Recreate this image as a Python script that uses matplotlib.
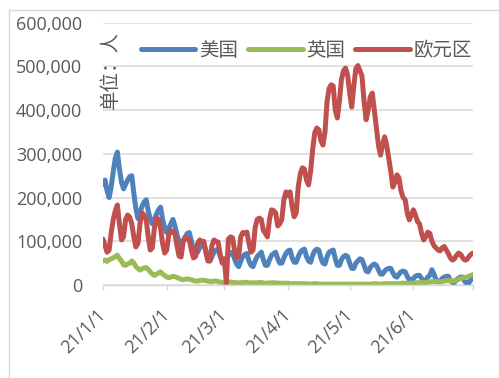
import matplotlib.pyplot as plt
import matplotlib.transforms as mtransforms
from matplotlib.lines import Line2D
import pandas as pd
import numpy as np

plt.rcParams['font.family'] = ['Open Sans', 'Noto Sans CJK SC', 'DejaVu Sans']

dates = pd.date_range("2021-01-01", "2021-06-30", freq="D")

# daily new cases, thousands of people
us_k = [230, 240, 215, 200, 225, 260, 290,
        304, 265, 235, 220, 230, 240, 248,
        250, 210, 175, 152, 165, 180, 190,
        195, 170, 150, 140, 150, 162, 172,
        178, 150, 130, 120, 130, 140, 150,
        135, 115, 100, 90, 100, 110, 118,
        120, 100, 80, 70, 75, 85, 92,
        95, 80, 65, 55, 65, 75, 80,
        82, 65, 55, 50, 60, 68, 72,
        75, 60, 48, 42, 55, 65, 70,
        72, 55, 45, 42, 55, 65, 70,
        75, 58, 45, 45, 58, 68, 72,
        75, 60, 50, 50, 62, 72, 78,
        80, 62, 52, 52, 65, 75, 80,
        82, 65, 55, 52, 68, 78, 82,
        80, 62, 50, 48, 65, 75, 78,
        80, 60, 45, 45, 58, 65, 68,
        65, 50, 38, 38, 50, 55, 60,
        58, 45, 32, 30, 40, 45, 48,
        45, 35, 25, 25, 32, 36, 38,
        38, 28, 20, 18, 25, 30, 32,
        30, 20, 12, 10, 15, 20, 22,
        22, 15, 10, 10, 18, 22, 35,
        25, 12, 8, 8, 15, 18, 20,
        20, 10, 6, 6, 12, 16, 18,
        18, 8, 4, 5, 12, 14]

uk_k = [55, 57, 54, 58, 60, 62, 65,
        68, 60, 55, 46, 45, 48, 50,
        55, 50, 42, 38, 34, 37, 39,
        40, 36, 30, 25, 22, 24, 28,
        30, 25, 22, 18, 17, 18, 20,
        19, 17, 15, 13, 12, 13, 14,
        13, 12, 10, 9, 9, 10, 11,
        11, 10, 9, 8, 8, 9, 9,
        8, 7, 6, 5, 5, 6, 7,
        6, 6, 5, 5, 5, 6, 6,
        6, 5, 5, 5, 5, 5, 6,
        5, 5, 4, 4, 5, 5, 5,
        5, 4, 4, 4, 4, 4, 4,
        3, 3, 3, 3, 3, 3, 3,
        3, 3, 2, 2, 3, 3, 3,
        2, 2, 2, 2, 2, 2, 2,
        2, 2, 2, 2, 2, 2, 2,
        2, 2, 2, 2, 2, 2, 2,
        2, 2, 2, 2, 2, 2, 3,
        3, 2, 2, 2, 3, 3, 3,
        3, 3, 3, 3, 3, 4, 4,
        4, 4, 4, 4, 4, 5, 5,
        6, 6, 6, 5, 7, 7, 8,
        8, 8, 7, 7, 8, 9, 10,
        10, 10, 9, 10, 11, 13, 15,
        16, 17, 18, 20, 22, 24]

ez_k = [105, 90, 75, 80, 120, 150, 170,
        183, 140, 103, 110, 150, 160, 155,
        140, 110, 87, 95, 140, 165, 160,
        150, 110, 80, 85, 130, 153, 150,
        130, 95, 73, 80, 115, 125, 120,
        119, 90, 66, 64, 100, 110, 105,
        103, 80, 62, 65, 95, 103, 100,
        100, 75, 55, 55, 90, 103, 100,
        98, 70, 50, 60, 5, 105, 110,
        108, 80, 62, 65, 110, 120, 118,
        121, 95, 75, 80, 130, 150, 153,
        150, 125, 118, 110, 150, 172, 170,
        165, 135, 140, 150, 195, 213, 205,
        213, 180, 156, 165, 225, 255, 268,
        265, 240, 229, 260, 310, 348, 359,
        355, 330, 320, 350, 420, 450, 458,
        455, 400, 382, 420, 470, 490, 496,
        480, 440, 407, 455, 495, 502, 490,
        478, 420, 378, 400, 430, 439, 400,
        360, 320, 297, 320, 339, 320, 290,
        260, 224, 235, 252, 245, 215, 200,
        195, 165, 149, 160, 172, 160, 145,
        140, 118, 103, 110, 121, 118, 100,
        90, 85, 80, 78, 85, 88, 80,
        72, 62, 57, 60, 68, 73, 70,
        62, 57, 58, 65, 70, 73]

series_names = ["美国", "英国", "欧元区"]
series_colors = ["#4F81BD", "#9BBB59", "#C0504D"]

month_ticks = pd.date_range("2021-01-01", "2021-06-01", freq="MS")
month_labels = ["21/1/1", "21/2/1", "21/3/1", "21/4/1", "21/5/1", "21/6/1"]
y_ticks = np.arange(0, 600001, 100000)

W, H = 499, 378
text_gray = "#595959"
grid_gray = "#D9D9D9"

fig = plt.figure(figsize=(W / 100, H / 100), dpi=100)
ax = fig.add_axes([103 / W, 1 - 285 / H, 370 / W, (285 - 22.7) / H])

for vals, name, color in zip([us_k, uk_k, ez_k], series_names, series_colors):
    ax.plot(dates, np.array(vals) * 1000, color=color, lw=3.6, label=name,
            solid_joinstyle="round", solid_capstyle="round", zorder=3)

ax.set_xlim(dates[0], dates[-1])
ax.set_ylim(0, 600000)
ax.set_yticks(y_ticks)
ax.set_yticklabels([f"{v:,}" for v in y_ticks], color=text_gray, fontsize=13)
ax.tick_params(axis="y", length=0, pad=15)
ax.grid(axis="y", color=grid_gray, lw=1.1, zorder=0)

ax.set_xticks(month_ticks)
ax.set_xticks([dates[-1]], minor=True)
ax.set_xticklabels(month_labels, color=text_gray, fontsize=13)
shift = mtransforms.ScaledTranslation(3 / 100, 0, fig.dpi_scale_trans)
for lbl in ax.get_xticklabels():
    lbl.set_rotation(45)
    lbl.set_ha("right")
    lbl.set_va("center")
    lbl.set_rotation_mode("anchor")
    lbl.set_transform(lbl.get_transform() + shift)
ax.tick_params(axis="x", which="both", direction="out", length=3.6,
               width=1, color=grid_gray, pad=16)

for side in ["left", "right", "top"]:
    ax.spines[side].set_visible(False)
ax.spines["bottom"].set_color(grid_gray)
ax.spines["bottom"].set_linewidth(1)
ax.spines["bottom"].set_zorder(4)

fig.legend(loc="center left", bbox_to_anchor=(141 / W, 1 - 51 / H), ncol=3,
           frameon=False, fontsize=14, handlelength=2.8, handletextpad=0.2,
           columnspacing=0.5, borderpad=0, borderaxespad=0,
           labelcolor=text_gray)

fig.text(110 / W, 1 - 70 / H, "单位：人", rotation=90, ha="center", va="center",
         fontsize=14, color=text_gray, family=["Noto Sans CJK SC", "DejaVu Sans"])

# chart area border
fig.add_artist(Line2D([9 / W, 1], [1 - 10 / H, 1 - 10 / H], color=grid_gray, lw=1))
fig.add_artist(Line2D([9 / W, 9 / W], [0, 1 - 10 / H], color=grid_gray, lw=1))

fig.savefig("out.png", dpi=100)
